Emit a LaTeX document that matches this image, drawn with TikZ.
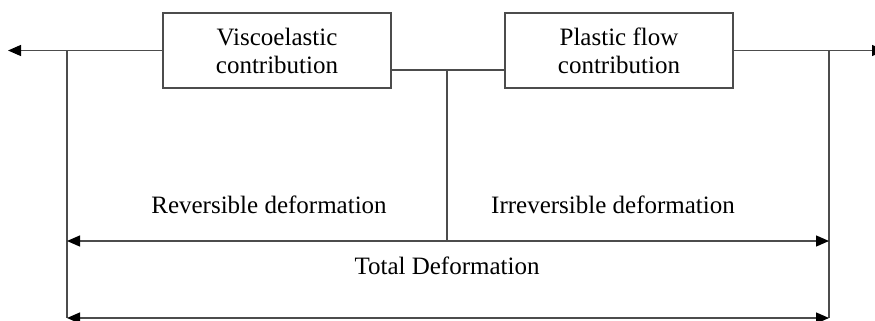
\documentclass[tikz,border=0pt]{standalone}
\usepackage{fontspec}
\setmainfont{Liberation Serif}
\usetikzlibrary{positioning,arrows.meta}

\tikzset{
  part/.style={draw, rectangle, minimum width=228pt, minimum height=75pt, align=center},
  wire/.style={draw=black!70, line width=1.3pt},
  tip/.style={wire, -{Triangle[length=13pt,width=11pt,black]}},
  span/.style={wire, {Triangle[length=13pt,width=11pt,black]}-{Triangle[length=13pt,width=11pt,black]}}
}

\begin{document}
\begin{tikzpicture}[x=1pt, y=-1pt, font=\fontsize{25}{28}\selectfont]
  \useasboundingbox (0,0) rectangle (875,321);

  \node[part, wire] (visco) at (277,50.5) {Viscoelastic\\contribution};
  \node[part, wire] (plastic) at (619,50.5) {Plastic flow\\contribution};

  \coordinate (leftend) at (8,50.5);
  \coordinate (rightend) at (885,50.5);
  \coordinate (lefttop) at (67,50.5);
  \coordinate (righttop) at (829,50.5);
  \coordinate (join) at (447,70);
  \coordinate (revleft) at (67,241);
  \coordinate (revright) at (829,241);
  \coordinate (revmid) at (447,241);
  \coordinate (totleft) at (67,318);
  \coordinate (totright) at (829,318);

  \draw[tip] (visco.west) -- (leftend);
  \draw[tip] (plastic.east) -- (rightend);
  \draw[wire] ([yshift=-19.5pt]visco.east) -- ([yshift=-19.5pt]plastic.west);
  \draw[wire] (join) -- (revmid);
  \draw[wire] (lefttop) -- (totleft);
  \draw[wire] (righttop) -- (totright);

  \draw[span] (revleft) -- (revright);
  \draw[span] (totleft) -- (totright);

  \node (rev) at (269,205) {Reversible deformation};
  \node (irrev) at (613,205) {Irreversible deformation};
  \node (total) at (447,266) {Total Deformation};
\end{tikzpicture}
\end{document}
